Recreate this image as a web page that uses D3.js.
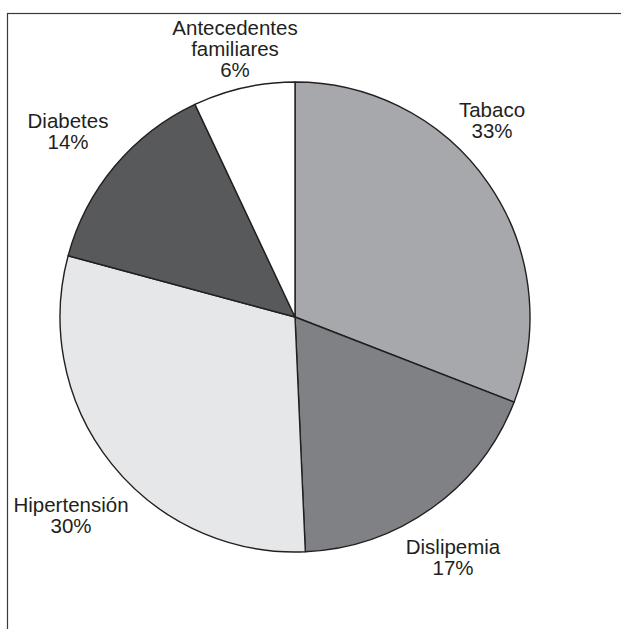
<!DOCTYPE html>
<html>
<head>
<meta charset="utf-8">
<script src="https://cdn.jsdelivr.net/npm/d3@7"></script>
<style>
  body { margin: 0; background: #fff; }
  svg { display: block; font-family: "Liberation Sans", Arial, sans-serif; }
</style>
</head>
<body>
<svg id="chart" width="621" height="629"></svg>
<script>
// categories in drawing order (clockwise from 12 o'clock)
const categories = ["Tabaco", "Dislipemia", "Hipertensión", "Diabetes", "Antecedentes familiares"];
// slice sizes as drawn in the picture
const sliceValues = [30.9, 18.4, 29.9, 13.8, 7.0];
// percentages printed on the labels
const percentLabels = ["33%", "17%", "30%", "14%", "6%"];
const fills = ["#a7a8ab", "#808184", "#e6e7e8", "#58595b", "#ffffff"];

const width = 621, height = 629;
const cx = 295, cy = 317, radius = 235;

const svg = d3.select("#chart");

// frame (open on right and bottom, runs off the page)
svg.append("rect")
  .attr("x", 7.5)
  .attr("y", 13.5)
  .attr("width", width + 10)
  .attr("height", height + 10)
  .attr("fill", "none")
  .attr("stroke", "#3a3a3a")
  .attr("stroke-width", 1.2);

const dataset = categories.map((c, i) => ({
  name: c,
  value: sliceValues[i],
  label: percentLabels[i],
  fill: fills[i]
}));

const pie = d3.pie().sort(null).value(d => d.value);
const arc = d3.arc().innerRadius(0).outerRadius(radius);

const g = svg.append("g")
  .attr("transform", `translate(${cx},${cy})`);

g.selectAll("path")
  .data(pie(dataset))
  .enter()
  .append("path")
  .attr("d", arc)
  .attr("fill", d => d.data.fill)
  .attr("stroke", "#231f20")
  .attr("stroke-width", 1.4)
  .attr("stroke-linejoin", "round");

// label anchors (text centre x, first baseline y)
const labelPos = {
  "Tabaco": [492, 117],
  "Dislipemia": [453, 554],
  "Hipertensión": [71, 512],
  "Diabetes": [68, 128],
  "Antecedentes familiares": [235, 35]
};

dataset.forEach(d => {
  const [x, y] = labelPos[d.name];
  const lines = d.name === "Antecedentes familiares"
    ? ["Antecedentes", "familiares", d.label]
    : [d.name, d.label];
  const t = svg.append("text")
    .attr("text-anchor", "middle")
    .attr("font-size", 20.5)
    .attr("fill", "#231f20");
  lines.forEach((l, i) => {
    t.append("tspan")
      .attr("x", x)
      .attr("y", y + i * 21)
      .text(l);
  });
});
</script>
</body>
</html>
